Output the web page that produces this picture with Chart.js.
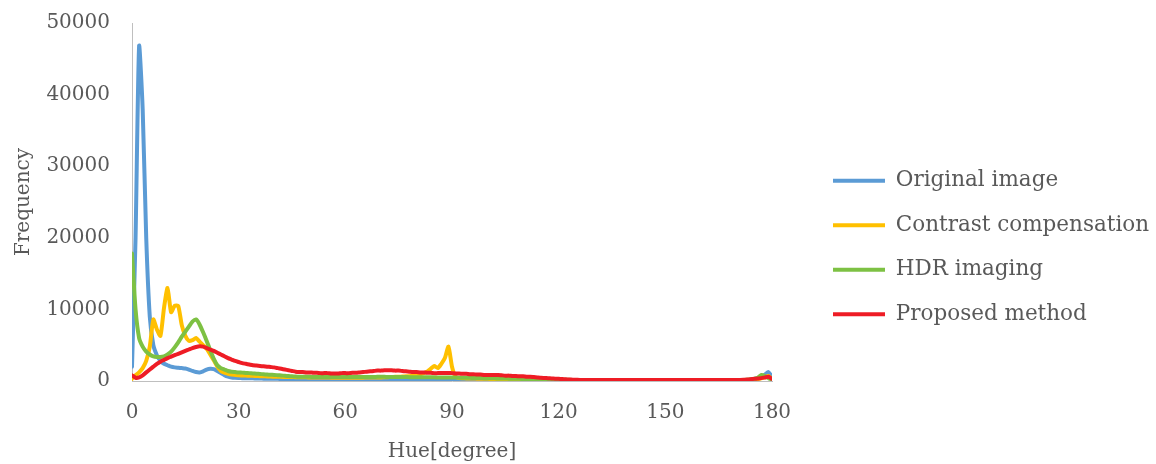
<!DOCTYPE html>
<html><head><meta charset="utf-8">
<script src="https://cdn.jsdelivr.net/npm/chart.js@4.4.1/dist/chart.umd.min.js"></script>
<style>html,body{margin:0;padding:0;background:#fff;}</style>
</head><body>
<canvas id="c" width="1156" height="464"></canvas>
<script>
// Hue bins 0..180
const hues = Array.from({length: 181}, (_, i) => i);
const xTicks = [0, 30, 60, 90, 120, 150, 180];
const yTicks = [0, 10000, 20000, 30000, 40000, 50000];
const seriesNames = ["Original image", "Contrast compensation", "HDR imaging", "Proposed method"];

const originalImage = [
  2000, 20000, 46800, 38000, 20000, 9000, 5000, 3600, 2800, 2400,
  2200, 2000, 1900, 1850, 1800, 1750, 1600, 1400, 1250, 1200,
  1350, 1600, 1700, 1650, 1400, 1100, 800, 600, 500, 450,
  420, 400, 390, 380, 370, 350, 340, 330, 320, 310,
  300, 300, 290, 290, 280, 280, 270, 260, 250, 250,
  240, 240, 230, 230, 220, 220, 210, 210, 200, 200,
  200, 190, 190, 180, 180, 170, 170, 160, 160, 150,
  150, 150, 140, 140, 130, 130, 120, 120, 110, 110,
  100, 100, 100, 90, 90, 90, 80, 80, 80, 80,
  70, 70, 70, 70, 60, 60, 60, 60, 60, 60,
  60, 60, 60, 60, 60, 60, 60, 60, 60, 60,
  50, 50, 50, 50, 50, 50, 50, 50, 50, 50,
  50, 50, 50, 50, 50, 50, 50, 50, 50, 50,
  50, 50, 50, 50, 50, 50, 50, 50, 50, 50,
  50, 50, 50, 50, 50, 50, 50, 50, 50, 50,
  50, 50, 50, 50, 50, 50, 50, 50, 50, 50,
  60, 60, 60, 70, 70, 70, 80, 80, 90, 90,
  100, 110, 120, 150, 200, 300, 400, 600, 900, 1250,
  600
];

const contrastCompensation = [
  300, 800, 1200, 1800, 2800, 4800, 8600, 7200, 6300, 10200,
  13000, 9600, 10500, 10500, 7800, 6300, 5600, 5700, 6000, 5500,
  5000, 4500, 3700, 2900, 2000, 1400, 1150, 1000, 900, 850,
  800, 780, 760, 740, 720, 700, 680, 660, 640, 620,
  600, 590, 580, 570, 560, 550, 540, 530, 520, 510,
  500, 500, 490, 490, 480, 480, 470, 470, 460, 460,
  450, 450, 460, 460, 470, 470, 480, 480, 490, 500,
  500, 520, 540, 560, 580, 600, 620, 650, 680, 700,
  750, 900, 1100, 1300, 1700, 2100, 1800, 2400, 3200, 4800,
  2000, 600, 400, 380, 360, 350, 340, 330, 320, 310,
  300, 290, 280, 270, 260, 250, 240, 230, 220, 210,
  200, 190, 180, 170, 160, 160, 150, 150, 140, 140,
  130, 130, 120, 120, 110, 110, 100, 100, 100, 100,
  100, 100, 100, 100, 100, 100, 100, 100, 100, 100,
  100, 100, 100, 100, 100, 100, 100, 100, 100, 100,
  100, 100, 100, 100, 100, 100, 100, 100, 100, 100,
  100, 100, 100, 100, 100, 100, 100, 100, 100, 100,
  110, 120, 130, 150, 180, 220, 280, 380, 500, 700,
  300
];

const hdrImaging = [
  17800, 10000, 6000, 4800, 4100, 3700, 3450, 3350, 3350, 3450,
  3700, 4100, 4700, 5400, 6200, 6900, 7600, 8300, 8600, 7900,
  6800, 5600, 4300, 3100, 2200, 1800, 1600, 1400, 1300, 1250,
  1200, 1170, 1130, 1100, 1060, 1020, 980, 940, 900, 870,
  850, 810, 770, 730, 690, 650, 620, 600, 590, 580,
  580, 570, 570, 560, 560, 560, 550, 550, 550, 550,
  550, 550, 550, 550, 550, 560, 560, 570, 570, 580,
  580, 580, 570, 570, 560, 560, 550, 550, 540, 540,
  530, 530, 520, 520, 510, 510, 500, 500, 500, 500,
  490, 480, 470, 460, 450, 440, 430, 420, 410, 400,
  390, 380, 370, 360, 350, 340, 330, 320, 310, 300,
  290, 280, 270, 260, 250, 240, 230, 220, 210, 200,
  190, 180, 170, 160, 150, 140, 130, 120, 110, 100,
  100, 100, 100, 100, 100, 100, 100, 100, 100, 100,
  100, 100, 100, 100, 100, 100, 100, 100, 100, 100,
  100, 100, 100, 100, 100, 100, 100, 100, 100, 100,
  100, 100, 100, 100, 100, 100, 100, 100, 100, 100,
  110, 120, 140, 170, 220, 300, 450, 850, 700, 400,
  200
];

const proposedMethod = [
  800, 450, 500, 800, 1200, 1600, 2000, 2400, 2700, 2950,
  3200, 3400, 3600, 3800, 4000, 4200, 4400, 4600, 4750, 4850,
  4800, 4600, 4400, 4200, 3950, 3700, 3450, 3200, 3000, 2800,
  2650, 2500, 2400, 2300, 2200, 2150, 2100, 2050, 2000, 1950,
  1900, 1800, 1700, 1600, 1500, 1400, 1300, 1250, 1250, 1200,
  1200, 1150, 1150, 1100, 1100, 1100, 1050, 1050, 1050, 1100,
  1100, 1100, 1150, 1150, 1200, 1250, 1300, 1350, 1400, 1450,
  1450, 1500, 1500, 1500, 1450, 1450, 1400, 1350, 1300, 1250,
  1250, 1200, 1200, 1150, 1150, 1100, 1100, 1100, 1100, 1100,
  1100, 1050, 1050, 1000, 1000, 950, 950, 900, 900, 850,
  850, 850, 850, 850, 800, 750, 750, 700, 700, 650,
  650, 600, 600, 550, 500, 450, 420, 390, 360, 330,
  300, 270, 240, 210, 190, 170, 150, 150, 150, 150,
  150, 150, 150, 150, 150, 150, 150, 150, 150, 150,
  150, 150, 150, 150, 150, 150, 150, 150, 150, 150,
  150, 150, 150, 150, 150, 150, 150, 150, 150, 150,
  150, 150, 150, 150, 150, 150, 150, 150, 150, 150,
  150, 150, 160, 200, 250, 300, 350, 400, 500, 600,
  300
];

const colors = ["#5B9BD5", "#FFC000", "#7DC143", "#EE1C25"];
const seriesValues = [originalImage, contrastCompensation, hdrImaging, proposedMethod];

const FONT = "'DejaVu Serif', 'Liberation Serif', serif";
const TXT = "#595959";
const PLOT_RIGHT = 772;   // right edge of plot area
const LEGEND_X = 833;     // left of legend line samples
const LEGEND_DY = 4;      // vertical nudge of legend block

const datasets = seriesNames.map((name, i) => ({
  label: name,
  data: hues.map((h, j) => ({x: h, y: seriesValues[i][j]})),
  borderColor: colors[i],
  backgroundColor: colors[i],
  borderWidth: 4,
  pointRadius: 0,
  tension: 0.2,
  borderJoinStyle: 'round',
  borderCapStyle: 'round',
  order: 3 - i
}));

const legendPlacement = {
  id: 'legendPlacement',
  beforeLayout(chart) {
    const lg = chart.legend;
    if (lg && !lg._fixed) {
      const fit = lg.fit.bind(lg);
      lg.fit = function() { fit(); this.width = chart.width - PLOT_RIGHT; };
      lg._fixed = true;
    }
  },
  afterLayout(chart) {
    const lg = chart.legend;
    const shift = LEGEND_X - lg.left - lg.options.labels.padding;
    lg.left += shift;
    lg.top += LEGEND_DY;
    lg.bottom += LEGEND_DY;
  }
};

new Chart(document.getElementById('c'), {
  type: 'line',
  data: {datasets},
  plugins: [legendPlacement],
  options: {
    responsive: false,
    devicePixelRatio: 1,
    animation: false,
    layout: {padding: {top: 23, right: 0, bottom: 0, left: 0}},
    plugins: {
      tooltip: {enabled: false},
      legend: {
        position: 'right',
        align: 'center',
        labels: {
          sort: (a, b) => a.datasetIndex - b.datasetIndex,
          usePointStyle: true,
          pointStyle: 'line',
          pointStyleWidth: 52,
          boxHeight: 4,
          padding: 23,
          color: TXT,
          font: {family: FONT, size: 21.5}
        }
      }
    },
    scales: {
      x: {
        type: 'linear',
        min: 0, max: 180,
        afterBuildTicks: s => { s.ticks = xTicks.map(v => ({value: v})); },
        ticks: {color: TXT, font: {family: FONT, size: 20}, padding: 20, maxRotation: 0, callback: v => String(v)},
        grid: {drawOnChartArea: false, drawTicks: false},
        border: {color: '#BFBFBF', width: 1},
        title: {display: true, text: 'Hue[degree]', color: TXT, font: {family: FONT, size: 20}, padding: {top: 4, bottom: 0}},
        afterFit: s => { s.height = 83; s.paddingLeft = 0; s.paddingRight = 0; }
      },
      y: {
        type: 'linear',
        min: 0, max: 50000,
        afterBuildTicks: s => { s.ticks = yTicks.map(v => ({value: v})); },
        ticks: {color: TXT, font: {family: FONT, size: 20}, padding: 22, callback: v => String(v)},
        grid: {drawOnChartArea: false, drawTicks: false},
        border: {color: '#BFBFBF', width: 1},
        title: {display: true, text: 'Frequency', color: TXT, font: {family: FONT, size: 20}, padding: {top: 12, bottom: 4}},
        afterFit: s => { s.width = 132; s.paddingTop = 0; s.paddingBottom = 0; }
      }
    }
  }
});
</script>
</body></html>
